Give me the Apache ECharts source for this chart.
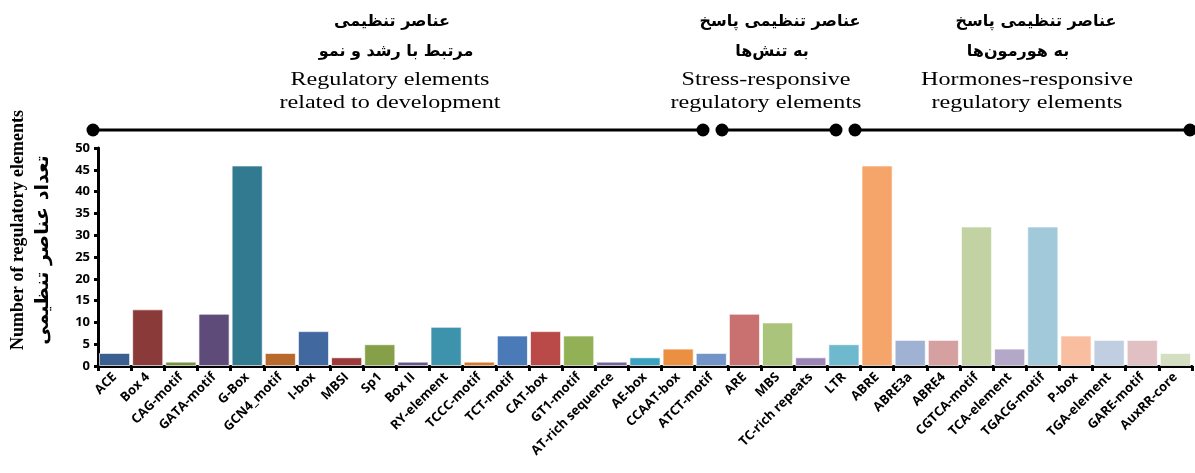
<!DOCTYPE html>
<html><head><meta charset="utf-8">
<script src="https://cdn.jsdelivr.net/npm/echarts@6/dist/echarts.min.js"></script>
<style>html,body{margin:0;padding:0;background:#fff}#c{width:1195px;height:473px}</style>
</head><body><div id="c"></div>
<script>
var categories = ['ACE','Box 4','CAG-motif','GATA-motif','G-Box','GCN4_motif','I-box','MBSI','Sp1','Box II','RY-element','TCCC-motif','TCT-motif','CAT-box','GT1-motif','AT-rich sequence','AE-box','CCAAT-box','ATCT-motif','ARE','MBS','TC-rich repeats','LTR','ABRE','ABRE3a','ABRE4','CGTCA-motif','TCA-element','TGACG-motif','P-box','TGA-element','GARE-motif','AuxRR-core'];
var counts = [3,13,1,12,46,3,8,2,5,1,9,1,7,8,7,1,2,4,3,12,10,2,5,46,6,6,32,4,32,7,6,6,3];
var barColors = ['#3b5f8f','#8b3a3a','#76923c','#5f4b7a','#327a8f','#b8692e','#4169a0','#9b3b3b','#86a04a','#6a5490','#3d93ab','#d9782b','#4a7bb8','#b94a48','#92b056','#7761a0','#3aa1bf','#ea9040','#7394c9','#c87170','#abc47c','#9a85b6','#6fb9cf','#f5a56a','#9fb2d3','#d7a0a0','#c2d2a3','#b3a8c8','#a2c9da','#f8be9f','#c1cde0','#e0c0c2','#d4dfc2'];
var yTicks = {min:0, max:50, interval:5};
var groups = [
  {fa1:'عناصر تنظیمی', fa2:'مرتبط با رشد و نمو', en1:'Regulatory elements', en2:'related to development'},
  {fa1:'عناصر تنظیمی پاسخ', fa2:'به تنش‌ها', en1:'Stress-responsive', en2:'regulatory elements'},
  {fa1:'عناصر تنظیمی پاسخ', fa2:'به هورمون‌ها', en1:'Hormones-responsive', en2:'regulatory elements'}
];
var layout = [
  {x0:93, x1:703, fa1x:392, fa2x:396, enx:390},
  {x0:722, x1:836, fa1x:780, fa2x:772, enx:766},
  {x0:855, x1:1190, fa1x:1036, fa2x:1018, enx:1027}
];

var chart = echarts.init(document.getElementById('c'));
var graphics = [];
groups.forEach(function(g, i){
  var L = layout[i];
  graphics.push({type:'line', shape:{x1:L.x0, y1:130, x2:L.x1, y2:130}, style:{stroke:'#000', lineWidth:3}});
  [L.x0, L.x1].forEach(function(x){
    graphics.push({type:'circle', shape:{cx:x, cy:130, r:6.5}, style:{fill:'#000'}});
  });
  graphics.push({type:'text', x:L.fa1x, y:22, style:{text:g.fa1, font:'bold 16px "DejaVu Sans"', fill:'#000', align:'center', verticalAlign:'middle'}});
  graphics.push({type:'text', x:L.fa2x, y:52, style:{text:g.fa2, font:'bold 16px "DejaVu Sans"', fill:'#000', align:'center', verticalAlign:'middle'}});
  graphics.push({type:'text', x:L.enx, y:80, scaleX:1.27, style:{text:g.en1, font:'19px "Liberation Serif"', fill:'#000', align:'center', verticalAlign:'middle'}});
  graphics.push({type:'text', x:L.enx, y:103, scaleX:1.27, style:{text:g.en2, font:'19px "Liberation Serif"', fill:'#000', align:'center', verticalAlign:'middle'}});
});
graphics.push({type:'text', x:18, y:230, rotation:Math.PI/2, style:{text:'Number of regulatory elements', font:'bold 18px "Liberation Serif"', fill:'#000', align:'center', verticalAlign:'middle'}});
graphics.push({type:'text', x:43, y:250, rotation:Math.PI/2, style:{text:'تعداد عناصر تنظیمی', font:'bold 19px "DejaVu Sans"', fill:'#000', align:'center', verticalAlign:'middle'}});

chart.setOption({
  animation:false,
  grid:{left:98, right:3, top:148, bottom:107, containLabel:false},
  xAxis:{type:'category', data:categories,
    axisLine:{lineStyle:{color:'#000', width:3}},
    axisTick:{show:true, interval:0, alignWithLabel:false, length:5, lineStyle:{color:'#000', width:3}},
    axisLabel:{interval:0, rotate:45, fontSize:13, fontWeight:'bold', fontFamily:'"Open Sans", "Liberation Sans", sans-serif', color:'#000', margin:9}
  },
  yAxis:{type:'value', min:yTicks.min, max:yTicks.max, interval:yTicks.interval,
    axisLine:{show:true, lineStyle:{color:'#000', width:3}},
    axisTick:{show:true, length:4, lineStyle:{color:'#000', width:3}},
    splitLine:{show:false},
    axisLabel:{fontSize:13, fontWeight:'bold', fontFamily:'"Open Sans", "Liberation Sans", sans-serif', color:'#000', margin:8}
  },
  series:[{type:'bar', data:counts, colorBy:'data', color:barColors, barCategoryGap:'6%',
    itemStyle:{borderColor:'rgba(255,255,255,0.7)', borderWidth:1}}],
  graphic:graphics
});
</script></body></html>
